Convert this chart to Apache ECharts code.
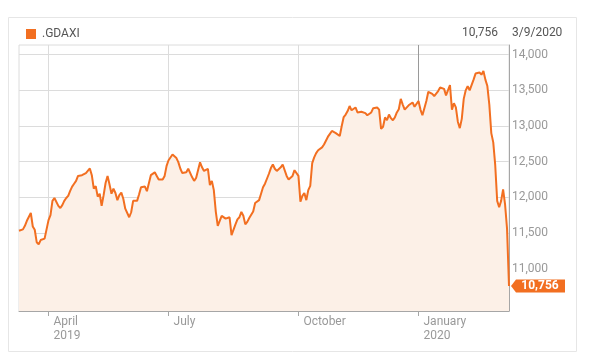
<!DOCTYPE html>
<html><head><meta charset="utf-8">
<script src="https://cdn.jsdelivr.net/npm/echarts@6/dist/echarts.min.js"></script>
<style>html,body{margin:0;padding:0;background:#fff}#c{width:591px;height:359px}</style>
</head><body><div id="c"></div>
<script>
const seriesName = '.GDAXI';
const headerValue = '10,756';
const headerDate = '3/9/2020';
const firstDay = '2019-03-11';
const lastDay = '2020-03-09';
// exchange holidays plus one day absent from the source series
const closedDays = ['2019-04-19','2019-04-22','2019-05-01','2019-06-10','2019-10-03',
  '2019-12-24','2019-12-25','2019-12-26','2019-12-31','2020-01-01','2020-02-24'];
const monthLabels = {0: 'January', 3: 'April', 6: 'July', 9: 'October'};
const yTicks = [11000, 11500, 12000, 12500, 13000, 13500, 14000];
const yMin = 10405;
const yMax = 14136;
const values = [
11530,11525,11550,11600,11670,11650,11780,11590,11545,11370,
11340,11400,11410,11420,11550,11680,11750,11950,11990,11970,
11880,11850,11890,11950,11990,12020,12090,12150,12190,12230,
12300,12285,12310,12325,12340,12360,12405,12310,12120,12155,
12010,12050,11880,12030,12200,12300,12180,12050,12120,12060,
11960,12030,12065,11980,11840,11860,11720,11790,11950,11970,
11950,12040,12140,12120,12150,12085,12090,12310,12335,12350,
12300,12250,12225,12250,12300,12440,12520,12535,12600,12615,
12550,12490,12400,12340,12330,12350,12400,12410,12280,12230,
12270,12290,12490,12420,12370,12395,12400,12170,12230,12100,
11800,11600,11590,11740,11760,11700,11690,11720,11470,11460,
11620,11690,11720,11795,11740,11620,11655,11710,11700,11800,
11920,11935,11960,12050,12140,12190,12260,12330,12410,12460,
12400,12370,12380,12420,12460,12435,12300,12250,12230,12300,
12380,12400,12300,11940,12020,12060,11960,12100,12160,12480,
12560,12620,12660,12640,12700,12740,12760,12850,12890,12930,
12920,12900,12880,12860,13000,13125,13160,13210,13280,13220,
13230,13260,13190,13210,13200,13195,13180,13150,13140,13190,
13250,13270,13260,13230,12960,12990,13120,13080,13160,13110,
13080,13120,13190,13235,13380,13300,13230,13215,13290,13300,
13330,13270,13250,13350,13230,13150,13250,13350,13480,13460,
13450,13420,13410,13490,13540,13550,13520,13430,13440,13575,
13230,13320,13260,13060,12970,13100,13380,13500,13560,13500,
13520,13650,13735,13740,13750,13720,13770,13650,13560,13300,
12900,12770,12450,11950,11860,11950,12110,11900,11560,10756
];

const lineColor = '#f26f21';
const fmt = v => Number(v).toLocaleString('en-US');

function buildDates() {
  const out = [];
  const d = new Date(firstDay + 'T00:00:00Z');
  const end = new Date(lastDay + 'T00:00:00Z');
  while (d <= end) {
    const wd = d.getUTCDay();
    const s = d.toISOString().slice(0, 10);
    if (wd !== 0 && wd !== 6 && closedDays.indexOf(s) < 0) out.push(s);
    d.setUTCDate(d.getUTCDate() + 1);
  }
  return out;
}
const dates = buildDates();
const month = s => parseInt(s.slice(5, 7), 10) - 1;
const isQuarterStart = i => i > 0 && month(dates[i]) !== month(dates[i - 1]) && (month(dates[i]) in monthLabels);
let firstLabelIdx = dates.findIndex((s, i) => isQuarterStart(i));

const chart = echarts.init(document.getElementById('c'), null, {renderer: 'canvas'});
chart.setOption({
  animation: false,
  textStyle: {fontFamily: 'Roboto'},
  legend: {
    left: 26, top: 28, padding: 0, itemWidth: 10, itemHeight: 10, itemGap: 5,
    icon: 'rect',
    textStyle: {color: '#555', fontSize: 12, fontFamily: 'Roboto', padding: [1, 0, 0, 1]},
    data: [seriesName]
  },
  graphic: [
    {type: 'rect', shape: {x: 8.5, y: 17.5, width: 568, height: 334}, style: {fill: 'none', stroke: '#e6e6e6', lineWidth: 1}, silent: true, z: -1},
    {type: 'text', left: 462, top: 27, style: {text: headerValue, fill: '#555', font: '12px Roboto'}},
    {type: 'text', left: 512, top: 27, style: {text: headerDate, fill: '#555', font: '12px Roboto'}}
  ],
  grid: {left: 19, right: 82, top: 45, bottom: 48, show: true, borderColor: '#dcdcdc', borderWidth: 1, backgroundColor: 'transparent'},
  xAxis: {
    type: 'category', data: dates, boundaryGap: false,
    axisLine: {lineStyle: {color: '#a6a6a6'}},
    axisTick: {show: true, length: 5, interval: (i) => isQuarterStart(i), lineStyle: {color: '#a6a6a6'}},
    splitLine: {show: true, interval: (i) => isQuarterStart(i), lineStyle: {color: ['#dcdcdc', '#dcdcdc', '#dcdcdc', '#9a9a9a']}},
    axisLabel: {
      interval: (i) => isQuarterStart(i), align: 'left', margin: 4, padding: [0, 0, 0, 5],
      color: '#999', fontSize: 12, lineHeight: 14, fontFamily: 'Roboto',
      formatter: (v, i) => {
        const m = month(v);
        const y = v.slice(0, 4);
        const name = monthLabels[m];
        return (i === firstLabelIdx || m === 0) ? name + '\n' + y : name;
      }
    }
  },
  yAxis: {
    type: 'value', position: 'right', min: yMin, max: yMax,
    axisLine: {show: true, lineStyle: {color: '#a6a6a6'}},
    axisTick: {show: false, customValues: yTicks},
    splitLine: {show: true, lineStyle: {color: '#dcdcdc'}},
    axisLabel: {customValues: yTicks, color: '#999', fontSize: 12, margin: 3, fontFamily: 'Roboto', formatter: v => fmt(v)}
  },
  series: [{
    name: seriesName, type: 'line', data: values, showSymbol: false, symbol: 'none',
    lineStyle: {color: lineColor, width: 2},
    itemStyle: {color: lineColor},
    areaStyle: {color: '#fcf0e7', origin: 'start', opacity: 1},
    markPoint: {
      symbol: 'path://M0,6.5L5,0L54,0L54,13L5,13Z',
      symbolSize: [54, 13],
      symbolOffset: [29, 0],
      itemStyle: {color: lineColor},
      label: {show: true, color: '#fff', fontSize: 12, fontWeight: 'bold', fontFamily: 'Roboto', offset: [2, 0], formatter: p => fmt(p.value)},
      data: [{coord: [dates[dates.length - 1], values[values.length - 1]], value: values[values.length - 1]}]
    }
  }]
});
</script></body></html>
